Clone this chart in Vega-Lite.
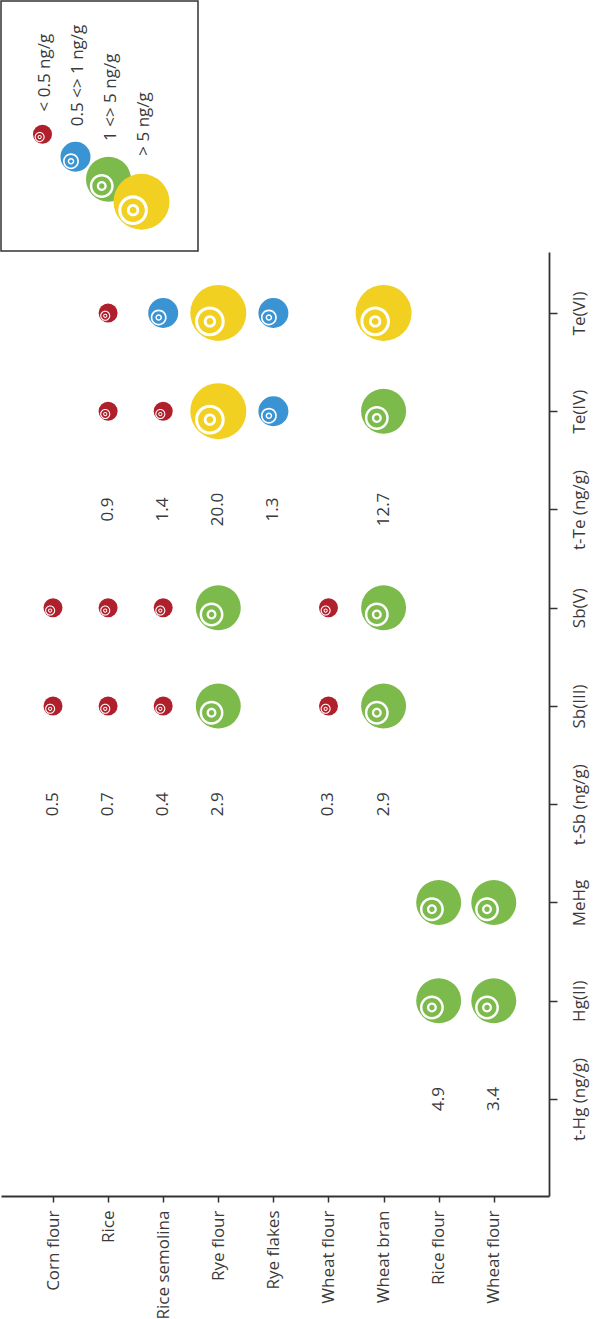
{
  "$schema": "https://vega.github.io/schema/vega-lite/v6.json",
  "padding": {"left": 0, "top": 0, "right": 8, "bottom": 0},
  "background": "white",
  "spacing": 0,
  "columns": 1,
  "align": "none",
  "config": {
    "view": {"stroke": null},
    "font": "Open Sans",
    "text": {"font": "Open Sans"},
    "axis": {
      "labelFont": "Open Sans",
      "labelFontSize": 17,
      "labelColor": "#3a3a3a",
      "domainColor": "#333333",
      "domainWidth": 1.8,
      "tickColor": "#333333",
      "tickWidth": 1.5,
      "grid": false,
      "title": null
    }
  },
  "datasets": {
    "levels": [
      {"level": "< 0.5 ng/g"},
      {"level": "0.5 <> 1 ng/g"},
      {"level": "1 <> 5 ng/g"},
      {"level": "> 5 ng/g"}
    ],
    "bubbles": [
      {"sample": "Corn flour", "species": "Sb(III)", "level": "< 0.5 ng/g"},
      {"sample": "Corn flour", "species": "Sb(V)", "level": "< 0.5 ng/g"},
      {"sample": "Rice", "species": "Sb(III)", "level": "< 0.5 ng/g"},
      {"sample": "Rice", "species": "Sb(V)", "level": "< 0.5 ng/g"},
      {"sample": "Rice", "species": "Te(IV)", "level": "< 0.5 ng/g"},
      {"sample": "Rice", "species": "Te(VI)", "level": "< 0.5 ng/g"},
      {"sample": "Rice semolina", "species": "Sb(III)", "level": "< 0.5 ng/g"},
      {"sample": "Rice semolina", "species": "Sb(V)", "level": "< 0.5 ng/g"},
      {"sample": "Rice semolina", "species": "Te(IV)", "level": "< 0.5 ng/g"},
      {"sample": "Rice semolina", "species": "Te(VI)", "level": "0.5 <> 1 ng/g"},
      {"sample": "Rye flour", "species": "Sb(III)", "level": "1 <> 5 ng/g"},
      {"sample": "Rye flour", "species": "Sb(V)", "level": "1 <> 5 ng/g"},
      {"sample": "Rye flour", "species": "Te(IV)", "level": "> 5 ng/g"},
      {"sample": "Rye flour", "species": "Te(VI)", "level": "> 5 ng/g"},
      {"sample": "Rye flakes", "species": "Te(IV)", "level": "0.5 <> 1 ng/g"},
      {"sample": "Rye flakes", "species": "Te(VI)", "level": "0.5 <> 1 ng/g"},
      {"sample": "Wheat flour", "species": "Sb(III)", "level": "< 0.5 ng/g"},
      {"sample": "Wheat flour", "species": "Sb(V)", "level": "< 0.5 ng/g"},
      {"sample": "Wheat bran", "species": "Sb(III)", "level": "1 <> 5 ng/g"},
      {"sample": "Wheat bran", "species": "Sb(V)", "level": "1 <> 5 ng/g"},
      {"sample": "Wheat bran", "species": "Te(IV)", "level": "1 <> 5 ng/g"},
      {"sample": "Wheat bran", "species": "Te(VI)", "level": "> 5 ng/g"},
      {"sample": "Rice flour", "species": "Hg(II)", "level": "1 <> 5 ng/g"},
      {"sample": "Rice flour", "species": "MeHg", "level": "1 <> 5 ng/g"},
      {"sample": "Wheat flour #2", "species": "Hg(II)", "level": "1 <> 5 ng/g"},
      {"sample": "Wheat flour #2", "species": "MeHg", "level": "1 <> 5 ng/g"}
    ],
    "totals": [
      {"sample": "Corn flour", "species": "t-Sb (ng/g)", "value": 0.5},
      {"sample": "Rice", "species": "t-Sb (ng/g)", "value": 0.7},
      {"sample": "Rice", "species": "t-Te (ng/g)", "value": 0.9},
      {"sample": "Rice semolina", "species": "t-Sb (ng/g)", "value": 0.4},
      {"sample": "Rice semolina", "species": "t-Te (ng/g)", "value": 1.4},
      {"sample": "Rye flour", "species": "t-Sb (ng/g)", "value": 2.9},
      {"sample": "Rye flour", "species": "t-Te (ng/g)", "value": 20.0},
      {"sample": "Rye flakes", "species": "t-Te (ng/g)", "value": 1.3},
      {"sample": "Wheat flour", "species": "t-Sb (ng/g)", "value": 0.3},
      {"sample": "Wheat bran", "species": "t-Sb (ng/g)", "value": 2.9},
      {"sample": "Wheat bran", "species": "t-Te (ng/g)", "value": 12.7},
      {"sample": "Rice flour", "species": "t-Hg (ng/g)", "value": 4.9},
      {"sample": "Wheat flour #2", "species": "t-Hg (ng/g)", "value": 3.4}
    ]
  },
  "concat": [
    {
      "width": 197,
      "height": 250,
      "view": {"stroke": "#333333", "strokeWidth": 1.5},
      "layer": [
        {
          "encoding": {
            "x": {"field": "level", "type": "ordinal", "axis": null,
                  "scale": {"type": "point", "domain": ["< 0.5 ng/g", "0.5 <> 1 ng/g", "1 <> 5 ng/g", "> 5 ng/g"], "range": [25, 157]}},
            "y": {"field": "level", "type": "ordinal", "axis": null,
                  "scale": {"type": "point", "domain": ["< 0.5 ng/g", "0.5 <> 1 ng/g", "1 <> 5 ng/g", "> 5 ng/g"], "range": [122, 212]}},
            "size": {"field": "level", "type": "ordinal", "legend": null,
                     "scale": {"type": "ordinal", "domain": ["< 0.5 ng/g", "0.5 <> 1 ng/g", "1 <> 5 ng/g", "> 5 ng/g"], "range": [361, 900, 2025, 3136]}}
          },
          "layer": [
            {
              "data": {"name": "levels"},
              "mark": {"type": "point", "shape": "circle", "filled": true, "opacity": 1, "strokeWidth": 0},
              "encoding": {
                "color": {"field": "level", "type": "nominal", "legend": null,
                          "scale": {"domain": ["< 0.5 ng/g", "0.5 <> 1 ng/g", "1 <> 5 ng/g", "> 5 ng/g"], "range": ["#b0202c", "#3a93d2", "#7dba4c", "#f1d022"]}}
              }
            },
            {
              "data": {"name": "levels"},
              "mark": {
                "type": "point", "filled": true, "opacity": 1, "fill": "white", "strokeWidth": 0,
                "shape": "M 0.23 0.3 C 0.23 0.5927 -0.0073 0.83 -0.3 0.83 C -0.5927 0.83 -0.83 0.5927 -0.83 0.3 C -0.83 0.0073 -0.5927 -0.23 -0.3 -0.23 C -0.0073 -0.23 0.23 0.0073 0.23 0.3 Z M 0.12 0.3 C 0.12 0.068 -0.068 -0.12 -0.3 -0.12 C -0.532 -0.12 -0.72 0.068 -0.72 0.3 C -0.72 0.532 -0.532 0.72 -0.3 0.72 C -0.068 0.72 0.12 0.532 0.12 0.3 Z M -0.08 0.3 C -0.08 0.4215 -0.1785 0.52 -0.3 0.52 C -0.4215 0.52 -0.52 0.4215 -0.52 0.3 C -0.52 0.1785 -0.4215 0.08 -0.3 0.08 C -0.1785 0.08 -0.08 0.1785 -0.08 0.3 Z M -0.18 0.3 C -0.18 0.2337 -0.2337 0.18 -0.3 0.18 C -0.3663 0.18 -0.42 0.2337 -0.42 0.3 C -0.42 0.3663 -0.3663 0.42 -0.3 0.42 C -0.2337 0.42 -0.18 0.3663 -0.18 0.3 Z"
              },
              "encoding": {}
            }
          ]
        },
        {
          "data": {"name": "levels"},
          "mark": {"type": "text", "angle": -90, "align": "left", "baseline": "middle", "fontSize": 17, "color": "#3a3a3a", "dy": 2},
          "encoding": {
            "x": {"field": "level", "type": "ordinal", "axis": null},
            "y": {"field": "level", "type": "ordinal", "axis": null,
                  "scale": {"type": "point", "domain": ["< 0.5 ng/g", "0.5 <> 1 ng/g", "1 <> 5 ng/g", "> 5 ng/g"], "range": [103, 162]}},
            "text": {"field": "level"}
          }
        }
      ],
      "resolve": {"scale": {"y": "independent"}}
    },
    {
      "width": 548,
      "height": 944,
      "encoding": {
        "x": {
          "field": "sample", "type": "ordinal",
          "scale": {"type": "point", "domain": ["Corn flour", "Rice", "Rice semolina", "Rye flour", "Rye flakes", "Wheat flour", "Wheat bran", "Rice flour", "Wheat flour #2"], "padding": 0.973, "align": 0.485},
          "axis": {"orient": "bottom", "labelAngle": -90, "tickSize": 6, "labelPadding": 8, "labelExpr": "replace(datum.label, ' #2', '')"}
        },
        "y": {
          "field": "species", "type": "ordinal",
          "scale": {"type": "point", "domain": ["Te(VI)", "Te(IV)", "t-Te (ng/g)", "Sb(V)", "Sb(III)", "t-Sb (ng/g)", "MeHg", "Hg(II)", "t-Hg (ng/g)"], "padding": 0.804, "align": 0.386},
          "axis": {"orient": "right", "labelAngle": -90, "tickSize": 8, "labelPadding": 14}
        },
        "size": {"field": "level", "type": "ordinal", "legend": null,
                 "scale": {"type": "ordinal", "domain": ["< 0.5 ng/g", "0.5 <> 1 ng/g", "1 <> 5 ng/g", "> 5 ng/g"], "range": [361, 900, 2025, 3136]}}
      },
      "layer": [
        {
          "data": {"name": "bubbles"},
          "mark": {"type": "point", "shape": "circle", "filled": true, "opacity": 1, "strokeWidth": 0},
          "encoding": {
            "color": {"field": "level", "type": "nominal", "legend": null,
                      "scale": {"domain": ["< 0.5 ng/g", "0.5 <> 1 ng/g", "1 <> 5 ng/g", "> 5 ng/g"], "range": ["#b0202c", "#3a93d2", "#7dba4c", "#f1d022"]}}
          }
        },
        {
          "data": {"name": "bubbles"},
          "mark": {
            "type": "point", "filled": true, "opacity": 1, "fill": "white", "strokeWidth": 0,
            "shape": "M 0.23 0.3 C 0.23 0.5927 -0.0073 0.83 -0.3 0.83 C -0.5927 0.83 -0.83 0.5927 -0.83 0.3 C -0.83 0.0073 -0.5927 -0.23 -0.3 -0.23 C -0.0073 -0.23 0.23 0.0073 0.23 0.3 Z M 0.12 0.3 C 0.12 0.068 -0.068 -0.12 -0.3 -0.12 C -0.532 -0.12 -0.72 0.068 -0.72 0.3 C -0.72 0.532 -0.532 0.72 -0.3 0.72 C -0.068 0.72 0.12 0.532 0.12 0.3 Z M -0.08 0.3 C -0.08 0.4215 -0.1785 0.52 -0.3 0.52 C -0.4215 0.52 -0.52 0.4215 -0.52 0.3 C -0.52 0.1785 -0.4215 0.08 -0.3 0.08 C -0.1785 0.08 -0.08 0.1785 -0.08 0.3 Z M -0.18 0.3 C -0.18 0.2337 -0.2337 0.18 -0.3 0.18 C -0.3663 0.18 -0.42 0.2337 -0.42 0.3 C -0.42 0.3663 -0.3663 0.42 -0.3 0.42 C -0.2337 0.42 -0.18 0.3663 -0.18 0.3 Z"
          },
          "encoding": {}
        },
        {
          "data": {"name": "totals"},
          "mark": {"type": "text", "angle": -90, "align": "center", "baseline": "middle", "fontSize": 17, "color": "#3a3a3a"},
          "encoding": {
            "size": null,
            "text": {"field": "value", "type": "quantitative", "format": ".1f"}
          }
        }
      ]
    }
  ]
}
